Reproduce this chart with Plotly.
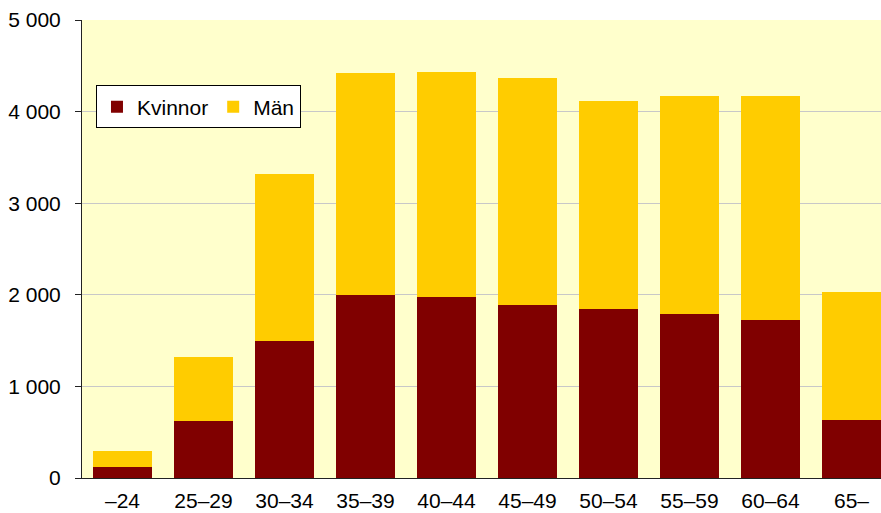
import plotly.graph_objects as go

categories = ["–24", "25–29", "30–34", "35–39", "40–44", "45–49", "50–54", "55–59", "60–64", "65–"]
kvinnor = [115, 622, 1496, 1998, 1976, 1889, 1845, 1790, 1725, 633]
totals = [295, 1321, 3319, 4421, 4432, 4367, 4116, 4170, 4170, 2030]
man = [t - k for t, k in zip(totals, kvinnor)]
ytick_vals = [0, 1000, 2000, 3000, 4000, 5000]
ytick_text = ["0", "1 000", "2 000", "3 000", "4 000", "5 000"]

fig = go.Figure()
fig.add_trace(go.Bar(x=categories, y=kvinnor, name="Kvinnor",
                     marker=dict(color="#800000", line=dict(width=0))))
fig.add_trace(go.Bar(x=categories, y=man, name="Män",
                     marker=dict(color="#FFCC00", line=dict(width=0))))

fig.update_layout(
    width=881, height=513,
    barmode="stack", bargap=0.28,
    margin=dict(l=82, r=0, t=20, b=35, autoexpand=False),
    paper_bgcolor="white", plot_bgcolor="#FFFFCC",
    font=dict(family="Liberation Sans, Arial", size=21, color="black"),
    legend=dict(orientation="h", x=0.0175, y=0.857, xanchor="left", yanchor="top",
                bgcolor="white", bordercolor="black", borderwidth=1,
                traceorder="normal", font=dict(size=21), itemwidth=30),
    showlegend=True,
)
fig.update_xaxes(range=[-0.5, 9.364], showline=True, linecolor="#222222", linewidth=1,
                 ticks="", showgrid=False, tickfont=dict(size=21), automargin=False,
                 ticklabelstandoff=4)
fig.update_yaxes(range=[0, 5000], tickvals=ytick_vals, ticktext=ytick_text,
                 showline=True, linecolor="#222222", linewidth=1,
                 ticks="outside", ticklen=6, tickcolor="#222222",
                 showgrid=True, gridcolor="#C8C8C8", gridwidth=1,
                 tickfont=dict(size=21), zeroline=False, automargin=False,
                 ticklabelstandoff=10)

fig.write_html("out.html", config={"displayModeBar": False},
               post_script="document.body.style.margin='0';document.body.style.overflow='hidden';")
